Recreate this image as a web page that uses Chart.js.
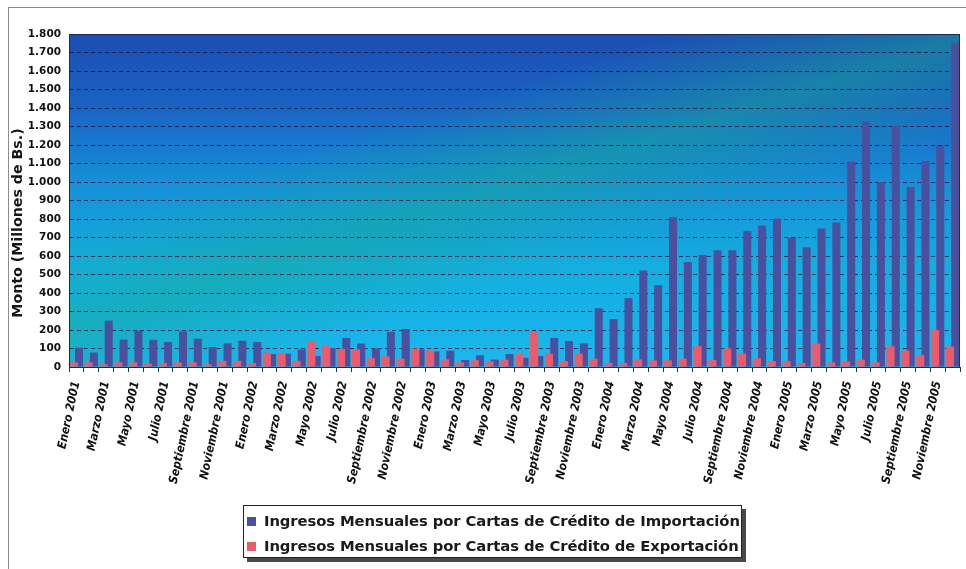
<!DOCTYPE html>
<html lang="es">
<head>
<meta charset="utf-8">
<title>Ingresos Mensuales por Cartas de Crédito</title>
<script src="https://cdn.jsdelivr.net/npm/chart.js@4.4.1/dist/chart.umd.min.js"></script>
<style>
  html, body { margin: 0; padding: 0; background: #ffffff; }
  #wrap { position: relative; width: 966px; height: 569px; overflow: hidden; background: #ffffff; }
  #frame { position: absolute; left: 8px; top: 7px; width: 990px; height: 600px;
           border-left: 1px solid #8c8c8c; border-top: 1px solid #8c8c8c; }
  #chart { position: absolute; left: 0; top: 0; }
  #legend { position: absolute; left: 243px; top: 505px; width: 499px; height: 53px;
            box-sizing: border-box; background: #ffffff; border: 1px solid #222;
            box-shadow: 4px 4px 0 #4a4a4a; padding-top: 2px;
            font: bold 14.8px "DejaVu Sans", Verdana, sans-serif; color: #1a1a1a; }
  #legend .row { height: 25px; line-height: 25px; padding-left: 3px; white-space: nowrap; letter-spacing: -0.1px; }
  #legend .sw { display: inline-block; width: 9px; height: 9px; margin-right: 8px; vertical-align: 0px; }
</style>
</head>
<body>
<div id="wrap">
  <div id="frame"></div>
  <canvas id="chart" width="966" height="569"></canvas>
  <div id="legend"></div>
</div>
<script>
// Months and years of the series (January 2001 – December 2005)
const months = ['Enero', 'Febrero', 'Marzo', 'Abril', 'Mayo', 'Junio', 'Julio',
                'Agosto', 'Septiembre', 'Octubre', 'Noviembre', 'Diciembre'];
const years = [2001, 2002, 2003, 2004, 2005];
const categories = years.flatMap(y => months.map(m => m + ' ' + y));

// Monthly income, millions of Bs.
const importacion = [
  105, 78, 250, 148, 195, 147, 135, 192, 153, 108, 128, 142,
  135, 70, 72, 95, 60, 103, 157, 127, 100, 190, 205, 95,
  85, 88, 38, 63, 40, 70, 50, 60, 157, 140, 128, 318,
  259, 372, 521, 442, 810, 568, 606, 631, 631, 735, 765, 803,
  699, 647, 749, 781, 1111, 1327, 999, 1304, 973, 1113, 1196, 1754
];
const exportacion = [
  25, 25, 15, 25, 25, 18, 22, 25, 25, 15, 33, 33,
  22, 78, 76, 33, 140, 115, 98, 95, 48, 58, 45, 100,
  90, 42, 25, 37, 30, 40, 72, 190, 72, 32, 72, 45,
  22, 22, 42, 35, 36, 45, 112, 38, 101, 73, 47, 32,
  32, 22, 127, 25, 30, 40, 25, 112, 89, 65, 200, 111
];

const seriesNames = [
  'Ingresos Mensuales por Cartas de Crédito de Importación',
  'Ingresos Mensuales por Cartas de Crédito de Exportación'
];
const axisTitle = 'Monto (Millones de Bs.)';

const BLUE = '#4b4f9d';
const RED = '#ef5a68';

function formatThousands(v) {
  return String(v).replace(/\B(?=(\d{3})+(?!\d))/g, '.');
}

// Gradient backdrop of the plot area with a diagonal teal band
const plotBackdrop = {
  id: 'plotBackdrop',
  beforeDraw(chart) {
    const { ctx, chartArea: a } = chart;
    ctx.save();
    let g = ctx.createLinearGradient(0, a.top, 0, a.bottom);
    g.addColorStop(0.00, '#1d4db2');
    g.addColorStop(0.22, '#1a64c4');
    g.addColorStop(0.45, '#1690d6');
    g.addColorStop(0.70, '#14aee0');
    g.addColorStop(1.00, '#19b8ee');
    ctx.fillStyle = g;
    ctx.fillRect(a.left, a.top, a.width, a.height);

    const cx = a.left + a.width * 0.48;
    const cy = a.top + a.height * 0.47;
    const nx = 0.309, ny = 0.951, d = 95;
    g = ctx.createLinearGradient(cx - nx * d, cy - ny * d, cx + nx * d, cy + ny * d);
    g.addColorStop(0.0, 'rgba(22,168,150,0)');
    g.addColorStop(0.5, 'rgba(22,168,150,0.5)');
    g.addColorStop(1.0, 'rgba(22,168,150,0)');
    ctx.fillStyle = g;
    ctx.fillRect(a.left, a.top, a.width, a.height);
    ctx.restore();
  },
  afterDraw(chart) {
    const { ctx, chartArea: a } = chart;
    ctx.save();
    // frame of the plot area
    ctx.strokeStyle = '#1d2a55';
    ctx.lineWidth = 1;
    ctx.strokeRect(a.left + 0.5, a.top + 0.5, a.width - 1, a.height);
    // vertical axis title
    ctx.translate(18, 223);
    ctx.rotate(-Math.PI / 2);
    ctx.fillStyle = '#151515';
    ctx.font = 'bold 14.2px "DejaVu Sans", Verdana, sans-serif';
    ctx.textAlign = 'center';
    ctx.textBaseline = 'middle';
    ctx.fillText(axisTitle, 0, 0);
    ctx.restore();
  }
};

const chart = new Chart(document.getElementById('chart'), {
  type: 'bar',
  data: {
    labels: categories,
    datasets: [
      { label: seriesNames[0], data: importacion, backgroundColor: BLUE, order: 2,
        categoryPercentage: 0.70, barPercentage: 1.54 },
      { label: seriesNames[1], data: exportacion, backgroundColor: RED, order: 1,
        categoryPercentage: 0.70, barPercentage: 1.54 }
    ]
  },
  options: {
    responsive: false,
    animation: false,
    devicePixelRatio: 1,
    layout: { padding: { top: 34, right: 6, left: 0, bottom: 0 } },
    plugins: { legend: { display: false }, tooltip: { enabled: false }, title: { display: false } },
    scales: {
      x: {
        grid: { display: true, drawOnChartArea: false, drawTicks: true, tickLength: 5,
                color: '#333', offset: true },
        border: { display: true, color: '#1d2a55', width: 1 },
        ticks: {
          autoSkip: false, minRotation: 78, maxRotation: 78, padding: 8, color: '#111',
          font: { family: '"DejaVu Sans Condensed", "Liberation Sans Narrow", "Liberation Sans", sans-serif',
                  size: 12, style: 'italic', weight: 'bold' },
          callback: function (value, index) { return index % 2 === 0 ? this.getLabelForValue(value) : ''; }
        },
        afterFit(scale) {
          scale.height = 202;
          scale.paddingLeft = 0;
          scale.paddingRight = 0;
        }
      },
      y: {
        min: 0, max: 1800,
        grid: { color: 'rgba(18,22,60,0.85)', lineWidth: 1, drawTicks: false,
                borderDash: [4, 3] },
        border: { display: true, color: '#1d2a55', width: 1, dash: [4, 3] },
        ticks: {
          stepSize: 100, padding: 8, color: '#111',
          font: { family: '"DejaVu Sans", Verdana, sans-serif', size: 10.5, weight: 'bold' },
          callback: v => formatThousands(v)
        },
        afterFit(scale) { scale.width = 69; }
      }
    }
  },
  plugins: [plotBackdrop]
});

// Legend box built from the chart's own datasets
const legend = document.getElementById('legend');
chart.data.datasets.forEach(ds => {
  const row = document.createElement('div');
  row.className = 'row';
  const sw = document.createElement('span');
  sw.className = 'sw';
  sw.style.background = ds.backgroundColor;
  row.appendChild(sw);
  row.appendChild(document.createTextNode(ds.label));
  legend.appendChild(row);
});
</script>
</body>
</html>
